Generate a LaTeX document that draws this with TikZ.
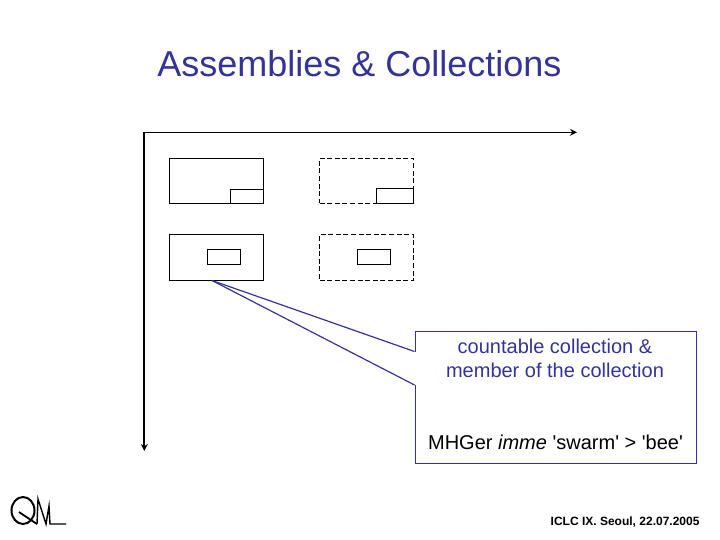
\documentclass[tikz,border=0pt]{standalone}
\usepackage{fontspec}
\setmainfont{Liberation Sans}
\newfontfamily\plainquotes{Liberation Sans}
\usetikzlibrary{arrows.meta}
\definecolor{slideblue}{RGB}{51,51,153}
\tikzset{
  unitbox/.style={draw=black, line width=1.2pt, minimum width=94pt, inner sep=0pt, outer sep=0pt},
  dashbox/.style={unitbox, dash pattern=on 5pt off 2.6pt},
  partbox/.style={draw=black, line width=1.2pt, inner sep=0pt, outer sep=0pt},
  axisline/.style={draw=black, -{Stealth[length=7pt,width=7pt]}},
  calloutline/.style={draw=slideblue, line width=1.2pt},
}

\begin{document}
\begin{tikzpicture}[x=1pt, y=-1pt]
  \useasboundingbox (0,0) rectangle (720,540);

  % Title
  \node[text=slideblue, font=\fontsize{36}{40}\selectfont] (title) at (359.5,64) {Assemblies \& Collections};

  % Axes
  \coordinate (origin) at (144.3,132.3);
  \coordinate (xend) at (577,132.3);
  \coordinate (yend) at (144.3,451);
  \draw[axisline, line width=1.3pt] (origin) -- (xend);
  \draw[axisline, line width=2pt] (origin) -- (yend);

  % Outer boxes
  \node[unitbox, minimum height=45pt] (solidtop) at (216.3,180.8) {};
  \node[dashbox, minimum height=45pt] (dashtop) at (366.5,180.8) {};
  \node[unitbox, minimum height=46pt] (solidlow) at (216.3,257.3) {};
  \node[dashbox, minimum height=46pt] (dashlow) at (366.5,257.3) {};

  % Inner boxes
  \node[partbox, minimum width=33pt, minimum height=14pt, anchor=south east] (solidpart) at (solidtop.south east) {};
  \node[partbox, minimum width=37pt, minimum height=15pt, anchor=south east] (dashpart) at (dashtop.south east) {};
  \node[partbox, minimum width=33pt, minimum height=15pt] (solidmember) at (223.8,256.8) {};
  \node[partbox, minimum width=33pt, minimum height=15pt] (dashmember) at (373.8,256.8) {};

  % Callout
  \coordinate (apex) at (212,280.5);
  \coordinate (notchtop) at (414.5,351.5);
  \coordinate (notchlow) at (414.5,385);
  \coordinate (notchcut) at (416,385);
  \node[calloutline, minimum width=281.5pt, minimum height=132pt, inner sep=0pt, anchor=north west] (callout) at (414.5,330.5) {};
  \fill[white] (notchtop) rectangle (notchcut);
  \draw[calloutline] (apex) -- (notchtop);
  \draw[calloutline] (apex) -- (notchlow);

  \node[text=slideblue, font=\fontsize{20}{24}\selectfont, align=center] (calloutlabel) at (555,358.5) {countable collection \&\\member of the collection};
  \node[font=\plainquotes\fontsize{20}{24}\selectfont] (example) at (555.5,442) {MHGer \textit{imme} 'swarm' > 'bee'};

  % Footer
  \node[font=\fontsize{12}{14}\selectfont\bfseries, anchor=east] (footer) at (703,522) {ICLC IX. Seoul, 22.07.2005};

  % Logo
  \draw[line width=2pt] (23,510.5) circle (11.5 and 13.5);
  \draw[line width=1.8pt] (19,512) -- (37,524);
  \draw[line width=1.4pt] (37,524) -- (38,499) -- (46,524) -- (49,506) -- (50,524) -- (66,524);
\end{tikzpicture}
\end{document}
